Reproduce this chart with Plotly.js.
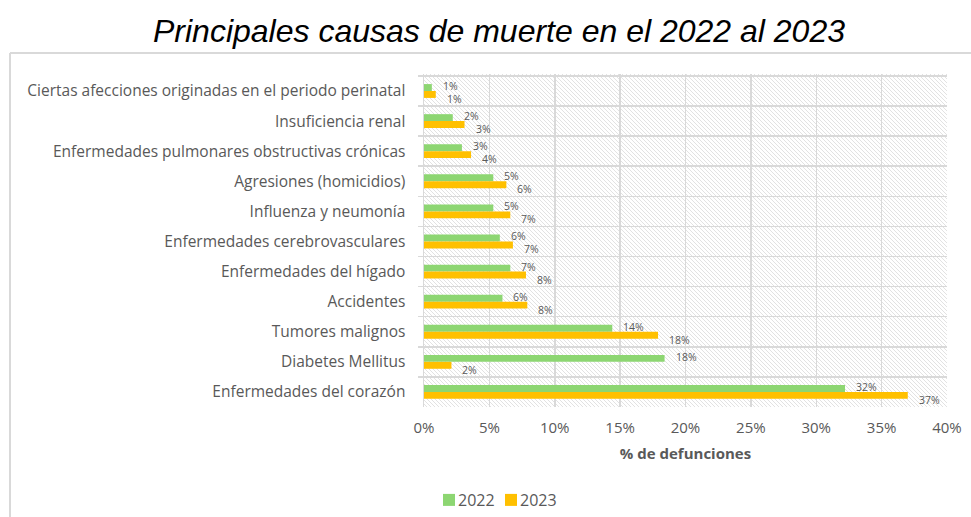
<!DOCTYPE html>
<html>
<head>
<meta charset="utf-8">
<script src="https://cdn.plot.ly/plotly-3.0.1.min.js"></script>
<style>
  html, body { margin: 0; padding: 0; background: #fff; }
  #chart { width: 971px; height: 517px; }
</style>
</head>
<body>
<div id="chart"></div>
<script>
// Categories, top to bottom as in the reference
const categories = [
  "Ciertas afecciones originadas en el periodo perinatal",
  "Insuficiencia renal",
  "Enfermedades pulmonares obstructivas crónicas",
  "Agresiones (homicidios)",
  "Influenza y neumonía",
  "Enfermedades cerebrovasculares",
  "Enfermedades del hígado",
  "Accidentes",
  "Tumores malignos",
  "Diabetes Mellitus",
  "Enfermedades del corazón"
];
const values2022 = [0.6, 2.2, 2.9, 5.3, 5.3, 5.8, 6.6, 6.0, 14.4, 18.4, 32.2];
const values2023 = [0.9, 3.1, 3.6, 6.3, 6.6, 6.8, 7.8, 7.9, 17.9, 2.1, 37.0];
const seriesNames = ["2022", "2023"];
const xTickVals = [0, 5, 10, 15, 20, 25, 30, 35, 40];
const xTickText = ["0%", "5%", "10%", "15%", "20%", "25%", "30%", "35%", "40%"];

const grey = "#595959";
const gridCol = "#d9d9d9";
const font = "'Open Sans', 'DejaVu Sans', sans-serif";

// plot area geometry
const W = 971, H = 517;
const M = { l: 424, r: 24, t: 74, b: 110 };
const PW = W - M.l - M.r, PH = H - M.t - M.b;

function barTrace(name, vals, color) {
  return {
    type: "bar",
    orientation: "h",
    name: name,
    y: categories,
    x: vals,
    marker: { color: color, line: { width: 0 } },
    hoverinfo: "x+y"
  };
}

const data = [
  barTrace(seriesNames[0], values2022, "#8dd672"),
  barTrace(seriesNames[1], values2023, "#ffc000")
];

function labelAnnotations(vals, yshift) {
  return vals.map((v, i) => ({
    x: v, y: categories[i], xref: "x", yref: "y",
    text: Math.round(v) + "%",
    showarrow: false,
    xanchor: "left", yanchor: "middle",
    xshift: 9, yshift: yshift,
    font: { family: font, size: 10.5, color: grey }
  }));
}

const layout = {
  width: W,
  height: H,
  margin: M,
  paper_bgcolor: "#ffffff",
  plot_bgcolor: "#ffffff",
  title: {
    text: "<i>Principales causas de muerte en el 2022 al 2023</i>",
    font: { family: "'Liberation Sans', Arial, sans-serif", size: 32, color: "#000" },
    x: 499 / W, xref: "container", xanchor: "center",
    y: 1 - 31 / H, yref: "container", yanchor: "middle"
  },
  barmode: "group",
  bargap: 0.54,
  bargroupgap: 0,
  xaxis: {
    range: [0, 40],
    tickvals: xTickVals,
    ticktext: xTickText,
    showgrid: true,
    gridcolor: gridCol,
    gridwidth: 1.5,
    zeroline: false,
    showline: false,
    ticks: "",
    tickfont: { family: font, size: 15, color: grey },
    ticklabelstandoff: 10,
    title: {
      text: "<b>% de defunciones</b>",
      font: { family: font, size: 15, color: grey },
      standoff: 12
    },
    fixedrange: true
  },
  yaxis: {
    type: "category",
    categoryorder: "array",
    categoryarray: categories,
    autorange: "reversed",
    showgrid: true,
    gridcolor: gridCol,
    gridwidth: 1.5,
    tickson: "boundaries",
    ticks: "outside",
    ticklen: 5,
    tickcolor: gridCol,
    tickwidth: 1.5,
    showline: true,
    linecolor: gridCol,
    linewidth: 1.5,
    zeroline: false,
    tickfont: { family: font, size: 15.5, color: grey },
    ticklabelstandoff: 14,
    fixedrange: true
  },
  showlegend: true,
  legend: {
    orientation: "h",
    x: 418 / W, xref: "container", xanchor: "left",
    y: 1 - 500 / H, yref: "container", yanchor: "middle",
    font: { family: font, size: 16, color: grey },
    bgcolor: "rgba(0,0,0,0)",
    traceorder: "normal",
    itemwidth: 30,
    entrywidth: 17,
    entrywidthmode: "pixels"
  },
  annotations: labelAnnotations(values2022, 5).concat(labelAnnotations(values2023, -8)),
  shapes: [
    { type: "line", xref: "paper", yref: "paper",
      x0: -(M.l - 10) / PW, x1: (PW + M.r + 5) / PW,
      y0: 1 + 21 / PH, y1: 1 + 21 / PH,
      line: { color: gridCol, width: 2 } },
    { type: "line", xref: "paper", yref: "paper",
      x0: -(M.l - 10) / PW, x1: -(M.l - 10) / PW,
      y0: 1 + 21 / PH, y1: -(M.b + 5) / PH,
      line: { color: gridCol, width: 2 } }
  ]
};

Plotly.newPlot("chart", data, layout, { displayModeBar: false, staticPlot: true }).then(function (gd) {
  // Hatched plot-area background, as in the reference
  const svgNS = "http://www.w3.org/2000/svg";
  const svg = gd.querySelector("svg.main-svg");
  let defs = svg.querySelector("defs");
  if (!defs) { defs = document.createElementNS(svgNS, "defs"); svg.insertBefore(defs, svg.firstChild); }
  const pat = document.createElementNS(svgNS, "pattern");
  pat.setAttribute("id", "hatchBgPattern");
  pat.setAttribute("patternUnits", "userSpaceOnUse");
  pat.setAttribute("width", "4");
  pat.setAttribute("height", "4");
  const rect = document.createElementNS(svgNS, "rect");
  rect.setAttribute("width", "4"); rect.setAttribute("height", "4"); rect.setAttribute("fill", "#ffffff");
  pat.appendChild(rect);
  const p = document.createElementNS(svgNS, "path");
  p.setAttribute("d", "M-1,-1 L5,5 M3,-1 L5,1 M-1,3 L1,5");
  p.setAttribute("stroke", "#dadada");
  p.setAttribute("stroke-width", "0.8");
  pat.appendChild(p);
  defs.appendChild(pat);
  const sz = gd._fullLayout._size;
  const r = document.createElementNS(svgNS, "rect");
  r.setAttribute("x", sz.l); r.setAttribute("y", sz.t);
  r.setAttribute("width", sz.w); r.setAttribute("height", sz.h);
  r.setAttribute("fill", "url(#hatchBgPattern)");
  const cart = svg.querySelector(".cartesianlayer");
  cart.parentNode.insertBefore(r, cart);
  // Legend: swatches closer to their labels, and no clipping of the last label
  gd.querySelectorAll(".legend .legendpoints").forEach(function (g) {
    g.setAttribute("transform", "translate(11,0)");
  });
  gd.querySelectorAll(".legend [clip-path]").forEach(function (el) {
    el.removeAttribute("clip-path");
  });
});
</script>
</body>
</html>
